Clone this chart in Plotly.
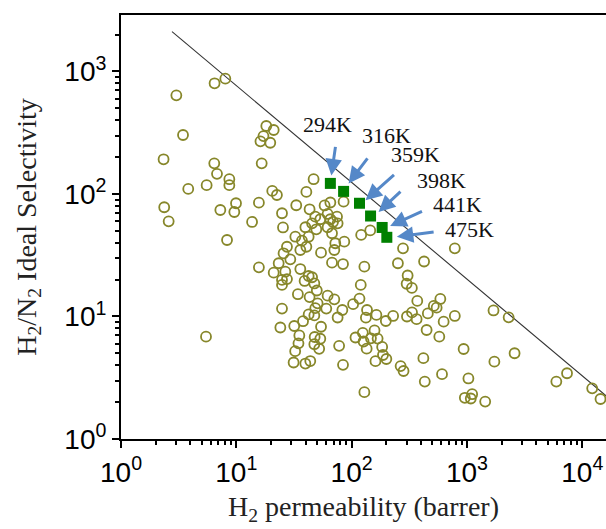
import plotly.graph_objects as go
import math

# ---- literature data: H2 permeability (barrer) vs H2/N2 ideal selectivity ----
perm = [6.48, 8.03, 3.02, 3.45, 2.34, 6.44, 6.80, 8.70, 8.70, 3.83, 5.53, 18.2, 21.1, 17.2, 16.2,
        19.7, 16.6, 46.8, 40.5, 20.5, 22.5, 2.37, 2.59, 7.27, 9.61, 9.94, 15.7, 24.9, 33.1, 43.2,
        13.7, 85.2, 65.4, 58.3, 48.4, 53.5, 61.9, 65.4, 74.7, 69.0, 75.6, 61.9, 45.4, 39.7, 49.4,
        25.4, 8.31, 32.5, 37.1, 42.4, 40.5, 35.9, 27.5, 25.7, 29.4, 23.3, 21.1, 26.6, 67.6, 72.2,
        70.8, 86.4, 54.3, 67.6, 84.2, 121, 145, 15.7, 35.9, 42.4, 45.4, 129, 279, 785, 252,
        425, 306, 300, 333, 120, 24.9, 27.5, 24.9, 39.1, 47.5, 49.9, 34.2, 43.2, 61.9, 70.8,
        50.7, 48.4, 47.5, 60.3, 24.9, 83.1, 75.6, 103, 117, 24.1, 31.8, 37.9, 42.4, 54.3, 136,
        133, 164, 198, 229, 371, 302, 334, 366, 458, 516, 546, 588, 628, 785, 447,
        576, 1700, 2300, 35.2, 34.6, 32.4, 31.4, 47.8, 53.5, 47.5, 52.3, 39.7, 43.8, 77.9, 84.2,
        108, 125, 127, 135, 158, 168, 184, 147, 187, 200, 161, 266, 282, 419, 431,
        608, 936, 1030, 959, 1080, 1110, 1440, 1730, 2590, 5960, 7380, 12200, 14400, 129, 5.46]
selectivity = [801, 873, 639, 303, 192, 178, 146, 132, 118, 110, 118, 359, 333, 297, 269,
               262, 178, 132, 104, 106, 98.1, 77.9, 59.8, 74.0, 71.3, 84.0, 84.9, 69.6, 80.9, 75.0,
               59.1, 86.5, 85.2, 80.6, 65.3, 62.2, 68.7, 62.2, 65.3, 59.1, 57.6, 53.5, 57.6, 53.5, 51.5,
               53.3, 42.1, 44.8, 41.6, 44.8, 37.1, 34.9, 37.1, 32.8, 29.3, 27.2, 22.8, 23.2, 47.8, 39.6,
               34.9, 40.8, 33.2, 27.5, 26.8, 46.3, 50.4, 25.2, 24.4, 21.4, 20.9, 25.5, 36.0, 36.0, 27.2,
               28.1, 21.6, 18.5, 17.1, 18.1, 19.9, 20.2, 18.1, 19.5, 18.6, 16.3, 15.2, 14.4, 14.8, 13.8,
               12.8, 11.7, 10.2, 11.6, 11.6, 11.3, 9.81, 12.6, 14.0, 8.13, 8.36, 9.15, 10.4, 8.25, 11.3,
               9.78, 10.3, 9.19, 10.1, 13.4, 10.0, 10.8, 9.51, 10.6, 12.2, 11.8, 13.9, 9.07, 10.1, 7.76,
               6.84, 11.2, 9.85, 7.00, 6.04, 5.21, 4.21, 6.80, 6.58, 5.94, 5.45, 4.13, 4.33, 5.76, 4.03,
               6.74, 7.36, 6.25, 5.46, 7.69, 6.60, 5.64, 6.64, 4.85, 4.50, 4.32, 3.94, 3.59, 4.57, 2.94,
               3.38, 5.43, 3.12, 2.17, 2.14, 2.32, 2.02, 4.28, 5.01, 2.94, 3.44, 2.59, 2.12, 2.41, 6.84]

# ---- this work: temperature series ----
temps = ["294K", "316K", "359K", "398K", "441K", "475K"]
work_perm = [65.4, 85.2, 117, 146, 184, 202]
work_sel = [122, 105, 84.0, 66.1, 53.3, 44.3]

# ---- upper bound line ----
bound_perm = [2.77, 16200]
bound_sel = [2113, 2.24]

# ---- tick labels ----
x_tickvals = [1, 10, 100, 1000, 10000]
x_ticktext = ["10<sup>0</sup>", "10<sup>1</sup>", "10<sup>2</sup>", "10<sup>3</sup>", "10<sup>4</sup>"]
y_tickvals = [1, 10, 100, 1000]
y_ticktext = ["10<sup>0</sup>", "10<sup>1</sup>", "10<sup>2</sup>", "10<sup>3</sup>"]
x_minor = [m * 10 ** k for k in range(0, 5) for m in range(2, 10)]
y_minor = [m * 10 ** k for k in range(0, 4) for m in range(2, 10)]

# ---- annotation styling offsets (pixels, relative to each square) ----
head_shift = [(1, 8), (5, 8), (6, 3), (8, 4), (8, 1.5), (10, 0.6)]
tail_off = [(4.3, -30), (20, -26.6), (30, -26.7), (23.4, -21.7), (33.3, -15.3), (38.3, -5)]
label_shift = [(-2.5, 59.3), (42.7, 56.3), (55.7, 48.3), (70.7, 36), (74.9, 22.5), (82.5, 7.8)]

fig = go.Figure()
fig.add_trace(go.Scatter(x=bound_perm, y=bound_sel, mode="lines",
                         line=dict(color="#333333", width=1.1), showlegend=False))
fig.add_trace(go.Scatter(x=perm, y=selectivity, mode="markers",
                         marker=dict(symbol="circle-open", size=10, color="#87872a",
                                     line=dict(width=1.8, color="#87872a")),
                         showlegend=False))
fig.add_trace(go.Scatter(x=work_perm, y=work_sel, mode="markers",
                         marker=dict(symbol="square", size=11, color="#008000"),
                         showlegend=False))

annotations = []
for i, t in enumerate(temps):
    lx = math.log10(work_perm[i])
    ly = math.log10(work_sel[i])
    annotations.append(dict(x=lx, y=ly, xref="x", yref="y", text="", showarrow=True,
                            xshift=head_shift[i][0], yshift=head_shift[i][1],
                            ax=tail_off[i][0], ay=tail_off[i][1],
                            arrowhead=2, arrowsize=1.1, arrowwidth=3, arrowcolor="#5588c8"))
    annotations.append(dict(x=lx, y=ly, xref="x", yref="y", text=t, showarrow=False,
                            xshift=label_shift[i][0], yshift=label_shift[i][1],
                            font=dict(family="Liberation Serif", size=22, color="#111111")))

tickfont = dict(family="Liberation Sans", size=28, color="black")
titlefont = dict(family="Liberation Serif", size=28, color="#222222")

fig.update_layout(
    width=606, height=529,
    margin=dict(l=121, r=0, t=15, b=90),
    paper_bgcolor="white", plot_bgcolor="white",
    annotations=annotations,
    xaxis=dict(type="log", range=[0, 4.206], tickmode="array", tickvals=x_tickvals, ticktext=x_ticktext,
               automargin=False,
               showgrid=False, zeroline=False, showline=True, linecolor="black", linewidth=2,
               mirror=True, ticks="outside", ticklen=7, tickwidth=2, tickcolor="black",
               tickfont=tickfont,
               minor=dict(tickmode="array", tickvals=x_minor, ticks="outside", ticklen=4,
                          tickwidth=1.5, tickcolor="black", showgrid=False),
               title=dict(text="H<sub>2</sub> permeability (barrer)", font=titlefont, standoff=10)),
    yaxis=dict(type="log", range=[0, 3.461], tickmode="array", tickvals=y_tickvals, ticktext=y_ticktext,
               automargin=False,
               showgrid=False, zeroline=False, showline=True, linecolor="black", linewidth=2,
               ticks="outside", ticklen=7, tickwidth=2, tickcolor="black",
               tickfont=tickfont,
               minor=dict(tickmode="array", tickvals=y_minor, ticks="outside", ticklen=4,
                          tickwidth=1.5, tickcolor="black", showgrid=False),
               title=dict(text="H<sub>2</sub>/N<sub>2</sub> Ideal Selectivity", font=titlefont, standoff=20)),
)

fig.write_html("out.html", config={"displayModeBar": False},
               post_script="document.body.style.margin='0';document.body.style.overflow='hidden';")
